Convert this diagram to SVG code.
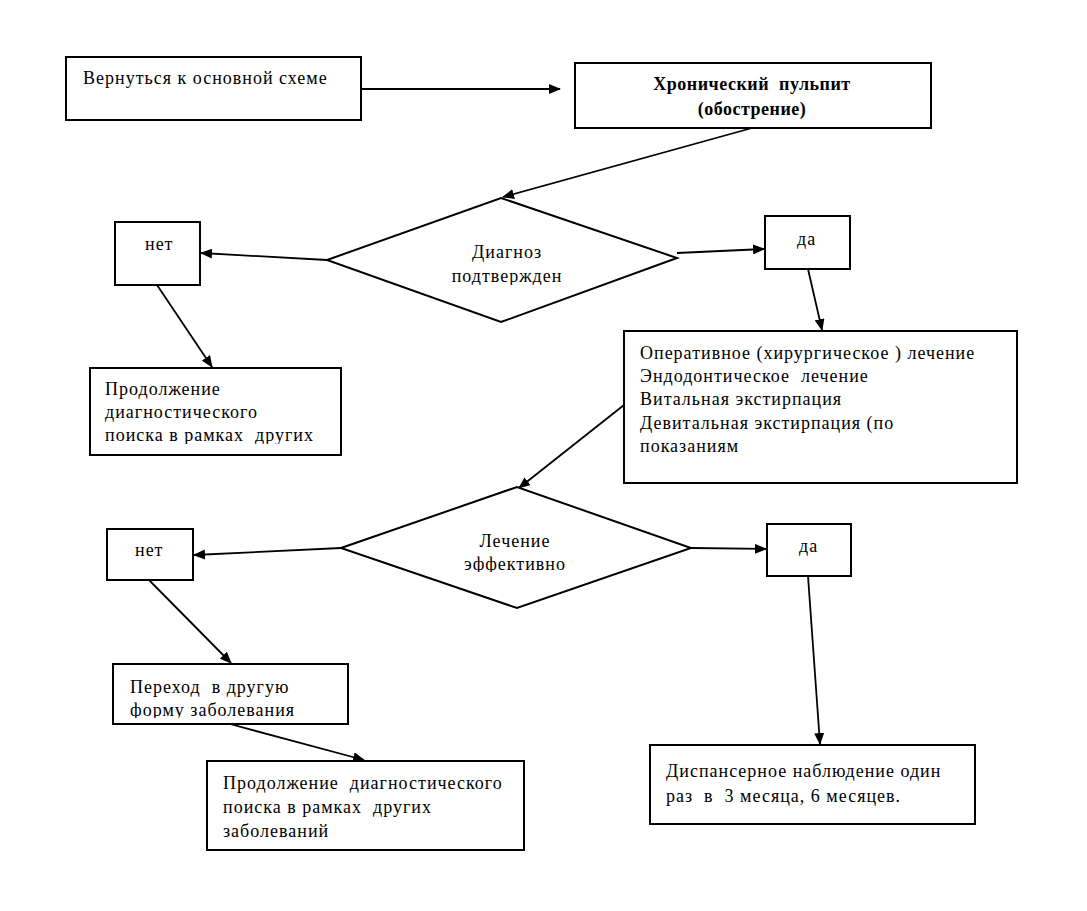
<svg xmlns="http://www.w3.org/2000/svg" width="1087" height="911" viewBox="0 0 1087 911">
<style>
.box{fill:#fff;stroke:#000;stroke-width:2}
.t{font-size:18px;fill:#000;letter-spacing:1px;white-space:pre}
.b{font-weight:bold;letter-spacing:0.5px}
.c{stroke:#000;stroke-width:1.8;fill:none;marker-end:url(#ah)}
</style>
<defs>
<marker id="ah" markerWidth="12" markerHeight="10" refX="11" refY="5" orient="auto" markerUnits="userSpaceOnUse">
<path d="M0,0 L12,5 L0,10 Z" fill="#000"/>
</marker>
<clipPath id="cp1"><rect x="90" y="368" width="251" height="76"/></clipPath>
<clipPath id="cp2"><rect x="400" y="235" width="220" height="50"/></clipPath>
<clipPath id="cp3"><rect x="400" y="525" width="220" height="47"/></clipPath>
<clipPath id="cp4"><rect x="113" y="664" width="235" height="54"/></clipPath>
</defs>
<rect width="1087" height="911" fill="#fff"/>
<g id="connectors">
<line class="c" x1="361" y1="89" x2="560" y2="89"/>
<line class="c" x1="752" y1="128" x2="503" y2="197"/>
<line class="c" x1="327" y1="260" x2="201" y2="253"/>
<line class="c" x1="677" y1="253" x2="764" y2="249"/>
<line class="c" x1="808" y1="269" x2="822" y2="330"/>
<line class="c" x1="157" y1="285" x2="212" y2="367"/>
<line class="c" x1="624" y1="405" x2="519" y2="488"/>
<line class="c" x1="341" y1="548" x2="194" y2="555"/>
<line class="c" x1="691" y1="548" x2="766" y2="549"/>
<line class="c" x1="808" y1="576" x2="820" y2="744"/>
<line class="c" x1="149" y1="580" x2="231" y2="663"/>
<line class="c" x1="230" y1="724" x2="364" y2="760"/>
</g>
<g font-family="'Liberation Serif', 'Times New Roman', serif" xml:space="preserve">
<g id="n_return">
<rect class="box" x="66" y="57" width="295" height="63"/>
<text class="t" x="83" y="84">Вернуться к основной схеме</text>
</g>
<g id="n_chronic">
<rect class="box" x="575" y="63" width="356" height="65"/>
<text class="t b" x="752" y="90" text-anchor="middle">Хронический  пульпит</text>
<text class="t b" x="752" y="115" text-anchor="middle">(обострение)</text>
</g>
<g id="n_diag">
<polygon class="box" points="327,260 501,198 677,258 501,322"/>
<g clip-path="url(#cp2)">
<text class="t" x="507" y="258" text-anchor="middle">Диагноз</text>
<text class="t" x="507" y="282" text-anchor="middle">подтвержден</text>
</g>
</g>
<g id="n_no1">
<rect class="box" x="115" y="222" width="85" height="63"/>
<text class="t" x="145" y="250">нет</text>
</g>
<g id="n_yes1">
<rect class="box" x="765" y="216" width="85" height="53"/>
<text class="t" x="797" y="245">да</text>
</g>
<g id="n_cont1">
<rect class="box" x="90" y="368" width="251" height="87"/>
<g clip-path="url(#cp1)">
<text class="t" x="105" y="395">Продолжение</text>
<text class="t" x="105" y="418">диагностического</text>
<text class="t" x="105" y="441">поиска в рамках  других</text>
</g>
</g>
<g id="n_treat">
<rect class="box" x="624" y="331" width="393" height="152"/>
<text class="t" x="640" y="359">Оперативное (хирургическое ) лечение</text>
<text class="t" x="640" y="382">Эндодонтическое  лечение</text>
<text class="t" x="640" y="405">Витальная экстирпация</text>
<text class="t" x="640" y="429">Девитальная экстирпация (по</text>
<text class="t" x="640" y="452">показаниям</text>
</g>
<g id="n_eff">
<polygon class="box" points="341,548 517,487 691,548 517,608"/>
<g clip-path="url(#cp3)">
<text class="t" x="515" y="547" text-anchor="middle">Лечение</text>
<text class="t" x="515" y="570" text-anchor="middle">эффективно</text>
</g>
</g>
<g id="n_no2">
<rect class="box" x="107" y="529" width="86" height="51"/>
<text class="t" x="135" y="556">нет</text>
</g>
<g id="n_yes2">
<rect class="box" x="767" y="524" width="84" height="52"/>
<text class="t" x="799" y="552">да</text>
</g>
<g id="n_trans">
<rect class="box" x="113" y="664" width="235" height="60"/>
<g clip-path="url(#cp4)">
<text class="t" x="130" y="693">Переход  в другую</text>
<text class="t" x="130" y="716">форму заболевания</text>
</g>
</g>
<g id="n_cont2">
<rect class="box" x="207" y="761" width="317" height="89"/>
<text class="t" x="223" y="789">Продолжение  диагностического</text>
<text class="t" x="223" y="813">поиска в рамках  других</text>
<text class="t" x="223" y="837">заболеваний</text>
</g>
<g id="n_disp">
<rect class="box" x="650" y="745" width="325" height="79"/>
<text class="t" x="666" y="777">Диспансерное наблюдение один</text>
<text class="t" x="666" y="802">раз  в  3 месяца, 6 месяцев.</text>
</g>
</g>
</svg>
